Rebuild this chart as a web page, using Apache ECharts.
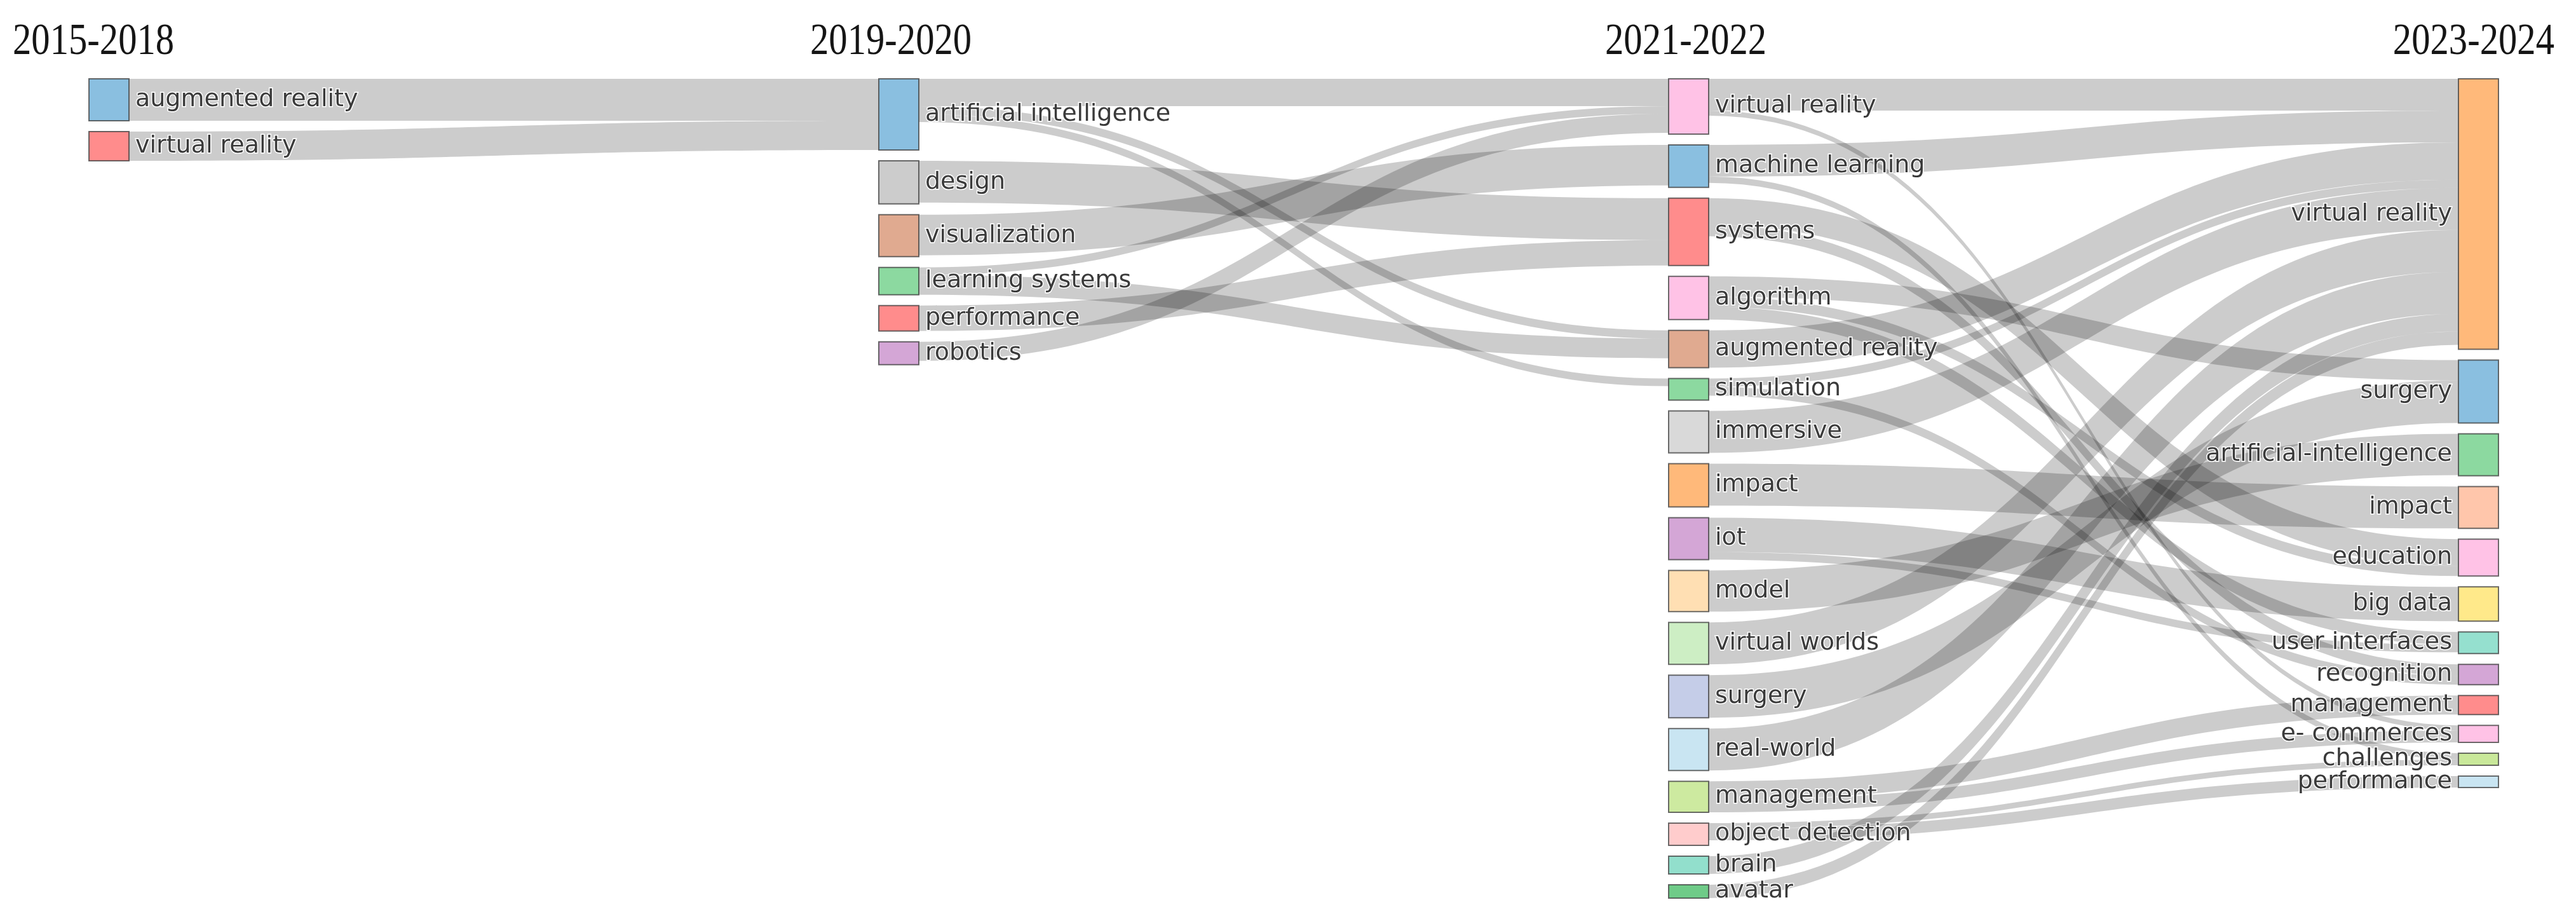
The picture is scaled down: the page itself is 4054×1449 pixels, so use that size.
<!DOCTYPE html>
<html>
<head>
<meta charset="utf-8">
<script src="https://cdn.jsdelivr.net/npm/echarts@6/dist/echarts.min.js"></script>
<style>
html,body{margin:0;padding:0;background:#ffffff;}
#chart{width:4054px;height:1449px;}
</style>
</head>
<body>
<div id="chart"></div>
<script>
// ---------- DATA ----------
const periods = ['2015-2018', '2019-2020', '2021-2022', '2023-2024'];

const terms2015 = ['augmented reality', 'virtual reality'];
const weights2015 = [66, 46];

const terms2019 = ['artificial intelligence', 'design', 'visualization', 'learning systems', 'performance', 'robotics'];
const weights2019 = [112, 68, 66, 43, 40, 36];

const terms2021 = ['virtual reality', 'machine learning', 'systems', 'algorithm', 'augmented reality', 'simulation',
  'immersive', 'impact', 'iot', 'model', 'virtual worlds', 'surgery', 'real-world', 'management',
  'object detection', 'brain', 'avatar'];
const weights2021 = [87, 67, 106, 67, 59, 34, 66, 68, 66, 65, 66, 67, 66, 49, 35, 28, 21];

const terms2023 = ['virtual reality', 'surgery', 'artificial-intelligence', 'impact', 'education', 'big data',
  'user interfaces', 'recognition', 'management', 'e- commerces', 'challenges', 'performance'];
const weights2023 = [426, 99, 66, 66, 58, 54, 34, 32, 30, 27, 19, 18];

// [source term, target term, flow]
const flows2015to2019 = [
  ['augmented reality', 'artificial intelligence', 66],
  ['virtual reality', 'artificial intelligence', 46]
];
const flows2019to2021 = [
  ['artificial intelligence', 'virtual reality', 43],
  ['artificial intelligence', 'augmented reality', 13],
  ['artificial intelligence', 'simulation', 12],
  ['design', 'systems', 66],
  ['visualization', 'machine learning', 64],
  ['learning systems', 'virtual reality', 12],
  ['learning systems', 'augmented reality', 31],
  ['performance', 'systems', 40],
  ['robotics', 'virtual reality', 30]
];
const flows2021to2023 = [
  ['virtual reality', 'virtual reality', 50],
  ['virtual reality', 'e- commerces', 8],
  ['machine learning', 'virtual reality', 50],
  ['machine learning', 'challenges', 10],
  ['systems', 'education', 42],
  ['systems', 'recognition', 18],
  ['algorithm', 'surgery', 32],
  ['algorithm', 'education', 16],
  ['algorithm', 'user interfaces', 20],
  ['augmented reality', 'virtual reality', 59],
  ['simulation', 'virtual reality', 13],
  ['simulation', 'recognition', 14],
  ['immersive', 'virtual reality', 66],
  ['impact', 'impact', 66],
  ['iot', 'big data', 54],
  ['iot', 'user interfaces', 12],
  ['model', 'artificial-intelligence', 65],
  ['virtual worlds', 'virtual reality', 66],
  ['surgery', 'surgery', 67],
  ['real-world', 'virtual reality', 66],
  ['management', 'management', 30],
  ['management', 'e- commerces', 19],
  ['object detection', 'challenges', 9],
  ['object detection', 'performance', 18],
  ['brain', 'virtual reality', 28],
  ['avatar', 'virtual reality', 21]
];

// ---------- STYLE ----------
const colors2015 = ['#8abfe0', '#ff8c8c'];
const colors2019 = ['#8abfe0', '#cccccc', '#e0aa90', '#8cd9a0', '#ff8c8c', '#d4a6d6'];
const colors2021 = ['#ffc2e6', '#8abfe0', '#ff8c8c', '#ffc2e6', '#e0aa90', '#8cd9a0', '#d9d9d9', '#ffb97a',
  '#d4a6d6', '#ffdfb3', '#cdeec4', '#c5cde8', '#c9e5f2', '#cdeaa0', '#ffcccc', '#92dfcc', '#6fcb88'];
const colors2023 = ['#ffb97a', '#8abfe0', '#8cd9a0', '#ffc6ab', '#ffc2e6', '#ffe98a', '#95e0cf', '#d4a6d6',
  '#ff8c8c', '#ffc2e6', '#c9e89a', '#c9e5f2'];

// title anchor points (x, vertical middle) and alignment
const titleAnchors = [
  {x: 20, y: 67, align: 'left'},
  {x: 1275, y: 67, align: 'left'},
  {x: 2526, y: 67, align: 'left'},
  {x: 4020, y: 67, align: 'right'}
];

// ---------- BUILD ----------
const columns = [
  {terms: terms2015, weights: weights2015, colors: colors2015},
  {terms: terms2019, weights: weights2019, colors: colors2019},
  {terms: terms2021, weights: weights2021, colors: colors2021},
  {terms: terms2023, weights: weights2023, colors: colors2023}
];
const lastDepth = columns.length - 1;
const key = (d, t) => d + '|' + t;

const nodes = [];
columns.forEach((col, d) => {
  col.terms.forEach((t, i) => {
    nodes.push({
      name: key(d, t),
      value: col.weights[i],
      depth: d,
      itemStyle: {color: col.colors[i]},
      label: {position: d === lastDepth ? 'left' : 'right'}
    });
  });
});

const links = [];
[flows2015to2019, flows2019to2021, flows2021to2023].forEach((set, d) => {
  set.forEach(([s, t, v]) => links.push({source: key(d, s), target: key(d + 1, t), value: v}));
});

const chart = echarts.init(document.getElementById('chart'), null, {renderer: 'canvas'});
chart.setOption({
  backgroundColor: '#ffffff',
  animation: false,
  graphic: periods.map((p, i) => ({
    type: 'text',
    silent: true,
    x: titleAnchors[i].x,
    y: titleAnchors[i].y,
    scaleX: 0.85,
    style: {
      text: p,
      x: 0,
      y: 0,
      align: titleAnchors[i].align,
      verticalAlign: 'middle',
      font: '69px "Liberation Serif"',
      fill: '#151515',
      shadowColor: 'rgba(0,0,0,0.35)',
      shadowBlur: 3,
      shadowOffsetX: 1,
      shadowOffsetY: 1
    }
  })),
  series: [{
    type: 'sankey',
    left: 140,
    right: 122,
    top: 124,
    bottom: 36,
    nodeWidth: 63,
    nodeGap: 17,
    layoutIterations: 0,
    draggable: false,
    emphasis: {disabled: true},
    data: nodes,
    links: links,
    itemStyle: {borderColor: 'rgba(60,60,60,0.75)', borderWidth: 2},
    lineStyle: {color: '#000000', opacity: 0.2, curveness: 0.5},
    label: {
      show: true,
      distance: 9,
      fontFamily: 'DejaVu Sans',
      fontSize: 38,
      color: '#3a3a3a',
      textBorderColor: '#ffffff',
      textBorderWidth: 3,
      formatter: (p) => p.name.split('|')[1]
    }
  }]
});
</script>
</body>
</html>
